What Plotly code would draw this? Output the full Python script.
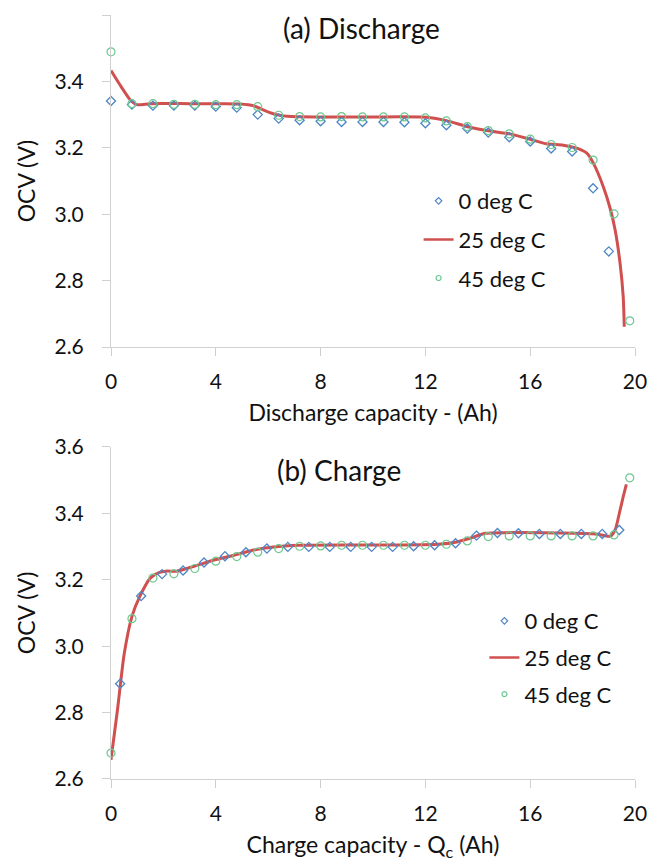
import plotly.graph_objects as go
from plotly.subplots import make_subplots

# ---------------- Data: (a) Discharge ----------------
dis_x_0c = [0, 0.8, 1.6, 2.4, 3.2, 4.0, 4.8, 5.6, 6.4, 7.2, 8.0, 8.8, 9.6, 10.4,
            11.2, 12.0, 12.8, 13.6, 14.4, 15.2, 16.0, 16.8, 17.6, 18.4, 19.0]
dis_v_0c = [3.341, 3.330, 3.327, 3.327, 3.327, 3.324, 3.321, 3.300, 3.288, 3.283,
            3.280, 3.278, 3.278, 3.278, 3.277, 3.274, 3.268, 3.258, 3.246, 3.232,
            3.219, 3.198, 3.189, 3.078, 2.888]

dis_x_25c = [0, 0.34, 0.73, 0.98, 1.5, 3.0, 4.4, 4.92, 5.43, 5.94, 6.32, 6.9, 8.0,
             10.0, 12.05, 12.81, 13.58, 14.34, 15.23, 15.99, 16.63, 17.26, 17.77,
             18.16, 18.41, 18.79, 19.05, 19.24, 19.43, 19.55, 19.59]
dis_v_25c = [3.433, 3.390, 3.345, 3.330, 3.333, 3.333, 3.333, 3.332, 3.327, 3.310,
             3.300, 3.294, 3.293, 3.293, 3.292, 3.282, 3.264, 3.252, 3.242, 3.226,
             3.212, 3.208, 3.199, 3.184, 3.154, 3.083, 3.018, 2.953, 2.852, 2.752,
             2.661]

dis_x_45c = [0, 0.8, 1.6, 2.4, 3.2, 4.0, 4.8, 5.6, 6.4, 7.2, 8.0, 8.8, 9.6, 10.4,
             11.2, 12.0, 12.8, 13.6, 14.4, 15.2, 16.0, 16.8, 17.6, 18.4, 19.2, 19.8]
dis_v_45c = [3.489, 3.333, 3.333, 3.331, 3.331, 3.330, 3.330, 3.324, 3.298, 3.294,
             3.293, 3.294, 3.293, 3.293, 3.293, 3.290, 3.281, 3.264, 3.252, 3.242,
             3.226, 3.210, 3.201, 3.163, 3.001, 2.679]

# ---------------- Data: (b) Charge ----------------
ch_x_0c = [0.35, 1.15, 1.95, 2.75, 3.55, 4.35, 5.15, 5.95, 6.75, 7.55, 8.35, 9.15,
           9.95, 10.75, 11.55, 12.35, 13.15, 13.95, 14.75, 15.55, 16.35, 17.15,
           17.95, 18.75, 19.4]
ch_v_0c = [2.887, 3.151, 3.217, 3.228, 3.252, 3.271, 3.283, 3.294, 3.299, 3.299,
           3.299, 3.299, 3.299, 3.299, 3.301, 3.304, 3.310, 3.333, 3.341, 3.340,
           3.338, 3.338, 3.338, 3.338, 3.350]

ch_x_25c = [0, 0.25, 0.5, 0.8, 1.1, 1.5, 1.85, 2.1, 2.5, 3.1, 3.9, 4.7, 5.4, 6.2,
            7.2, 9.0, 11.0, 12.5, 13.2, 13.7, 14.3, 15.0, 17.0, 18.5, 19.05, 19.24,
            19.43, 19.55, 19.67]
ch_v_25c = [2.658, 2.810, 2.975, 3.090, 3.150, 3.205, 3.222, 3.226, 3.226, 3.239,
            3.259, 3.274, 3.289, 3.299, 3.304, 3.305, 3.305, 3.307, 3.314, 3.325,
            3.340, 3.342, 3.341, 3.338, 3.331, 3.350, 3.410, 3.450, 3.487]

ch_x_45c = [0, 0.8, 1.6, 2.4, 3.2, 4.0, 4.8, 5.6, 6.4, 7.2, 8.0, 8.8, 9.6, 10.4,
            11.2, 12.0, 12.8, 13.6, 14.4, 15.2, 16.0, 16.8, 17.6, 18.4, 19.2, 19.8]
ch_v_45c = [2.678, 3.083, 3.205, 3.218, 3.234, 3.256, 3.270, 3.283, 3.294, 3.301,
            3.302, 3.304, 3.304, 3.304, 3.304, 3.304, 3.307, 3.317, 3.330, 3.332,
            3.332, 3.332, 3.332, 3.332, 3.335, 3.507]

series_names = ["0 deg C", "25 deg C", "45 deg C"]
panel_titles = ["(a) Discharge", "(b) Charge"]
x_titles = ["Discharge capacity - (Ah)", "Charge capacity - Q<sub>c</sub> (Ah)"]
y_title = "OCV (V)"
x_ticks = [0, 4, 8, 12, 16, 20]
y_ticks = [2.6, 2.8, 3.0, 3.2, 3.4, 3.6]

# ---------------- Styling ----------------
BLUE = "#4f86c6"
RED = "#d0504f"
GREEN = "#6cc890"
AXIS = "#d0d0d0"
FONT = "Lato"
TXT = "#111111"

fig = make_subplots(rows=2, cols=1, vertical_spacing=0.1308)

panels = [
    (dis_x_0c, dis_v_0c, dis_x_25c, dis_v_25c, dis_x_45c, dis_v_45c, "legend"),
    (ch_x_0c, ch_v_0c, ch_x_25c, ch_v_25c, ch_x_45c, ch_v_45c, "legend2"),
]

for i, (x0, v0, x25, v25, x45, v45, lg) in enumerate(panels):
    row = i + 1
    fig.add_trace(go.Scatter(
        x=x25, y=v25, mode="lines", name=series_names[1], showlegend=False,
        line=dict(color=RED, width=3, shape="spline", smoothing=0.6),
        cliponaxis=False), row=row, col=1)
    fig.add_trace(go.Scatter(
        x=x0, y=v0, mode="markers", name=series_names[0], showlegend=False,
        marker=dict(symbol="diamond-open", size=7, color=BLUE, line=dict(width=1.3)),
        cliponaxis=False), row=row, col=1)
    fig.add_trace(go.Scatter(
        x=x45, y=v45, mode="markers", name=series_names[2], showlegend=False,
        marker=dict(symbol="circle-open", size=8, color=GREEN, line=dict(width=1.2)),
        cliponaxis=False), row=row, col=1)
    # legend entries
    fig.add_trace(go.Scatter(
        x=[None], y=[None], mode="markers", name=series_names[0], legend=lg,
        legendgroup=f"a{i}",
        marker=dict(symbol="diamond-open", size=5, color=BLUE, line=dict(width=1.2))),
        row=row, col=1)
    fig.add_trace(go.Scatter(
        x=[None], y=[None], mode="lines", name=series_names[1], legend=lg,
        legendgroup=f"b{i}",
        line=dict(color=RED, width=2.5)), row=row, col=1)
    fig.add_trace(go.Scatter(
        x=[None], y=[None], mode="markers", name=series_names[2], legend=lg,
        legendgroup=f"c{i}",
        marker=dict(symbol="circle-open", size=5, color=GREEN, line=dict(width=1.2))),
        row=row, col=1)

axis_common = dict(
    showgrid=False, zeroline=False, showline=True, linecolor=AXIS, linewidth=1,
    ticks="outside", tickcolor=AXIS, ticklen=8, tickwidth=1,
    tickfont=dict(family=FONT, size=21, color=TXT), automargin=False,
)

for i in range(2):
    row = i + 1
    fig.update_xaxes(range=[0, 20], tickvals=x_ticks, ticklabelstandoff=8, **axis_common,
                     title=dict(text=x_titles[i], font=dict(family=FONT, size=23, color=TXT),
                                standoff=12),
                     row=row, col=1)
    fig.update_yaxes(range=[2.6, 3.6], tickvals=y_ticks, tickformat=".1f",
                     ticklabelstandoff=14, **axis_common,
                     title=dict(text=y_title, font=dict(family=FONT, size=23, color=TXT),
                                standoff=12),
                     row=row, col=1)

fig.update_layout(
    yaxis=dict(domain=[0.5654, 1.0]),
    yaxis2=dict(domain=[0.0, 0.4346]),
)

fig.add_annotation(x=9.56, y=3.56, xref="x", yref="y", text=panel_titles[0],
                   showarrow=False, font=dict(family=FONT, size=28, color=TXT))
fig.add_annotation(x=8.7, y=3.532, xref="x2", yref="y2", text=panel_titles[1],
                   showarrow=False, font=dict(family=FONT, size=28, color=TXT))

legend_common = dict(
    font=dict(family=FONT, size=22, color=TXT), bgcolor="rgba(0,0,0,0)",
    xanchor="left", yanchor="top", itemwidth=30,
)

# page body has an 8px default margin, so margins are offset accordingly
fig.update_layout(
    template="none",
    width=665, height=862,
    margin=dict(l=103, r=38, t=7, b=91, autoexpand=False),
    paper_bgcolor="white", plot_bgcolor="white",
    font=dict(family=FONT, size=20, color=TXT),
    legend=dict(x=0.587, y=0.784, tracegroupgap=7, **legend_common),
    legend2=dict(x=0.7126, y=0.2342, tracegroupgap=5, **legend_common),
)

fig.write_html("out.html")
